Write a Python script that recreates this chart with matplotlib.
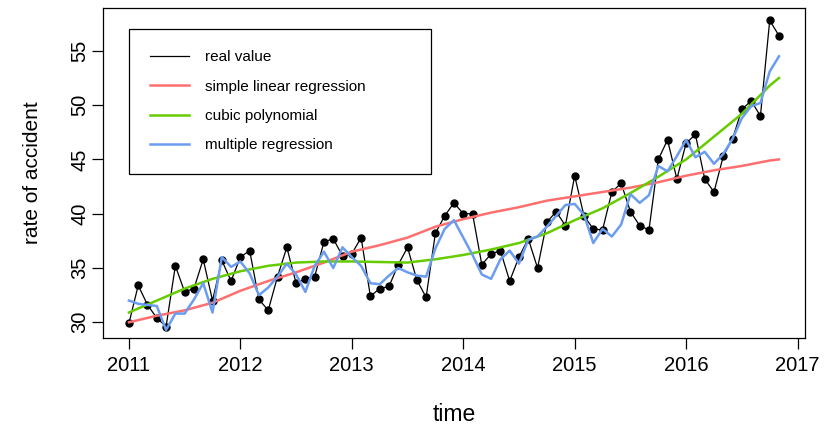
import numpy as np
import matplotlib
matplotlib.use("Agg")
import matplotlib.pyplot as plt

plt.rcParams['font.family'] = ['Liberation Sans', 'DejaVu Sans']

# monthly series, Jan 2011 .. Nov 2016
months = np.arange(71)
real_value = [29.9, 33.4, 31.6, 30.4, 29.6, 35.2, 32.8, 33.1, 35.8, 32.0,
              35.7, 33.8, 36.0, 36.6, 32.1, 31.1, 34.2, 36.9, 33.6, 34.0,
              34.2, 37.4, 37.7, 36.1, 36.3, 37.8, 32.4, 33.1, 33.3, 35.3,
              36.9, 33.9, 32.3, 38.2, 39.8, 41.0, 40.0, 40.0, 35.3, 36.3,
              36.6, 33.8, 36.0, 37.7, 35.0, 39.2, 40.2, 38.9, 43.5, 39.8,
              38.6, 38.5, 42.0, 42.8, 40.2, 38.9, 38.5, 45.0, 46.8, 43.2,
              46.5, 47.3, 43.2, 42.0, 45.3, 46.9, 49.6, 50.4, 49.0, 57.8,
              56.4]
multiple_reg = [32.0, 31.7, 31.6, 31.5, 29.3, 30.8, 30.8, 32.1, 33.6, 30.9,
                36.0, 35.1, 35.6, 34.5, 32.5, 33.2, 34.2, 35.4, 34.4, 32.8,
                35.2, 36.5, 35.0, 36.9, 36.0, 35.2, 33.6, 33.5, 34.3, 35.0,
                34.6, 34.3, 34.2, 36.8, 38.6, 39.4, 37.8, 36.2, 34.4, 34.0,
                35.8, 36.6, 35.4, 37.6, 37.9, 38.8, 39.8, 40.8, 40.9, 39.9,
                37.3, 38.6, 37.9, 39.0, 41.8, 41.0, 41.7, 44.4, 43.9, 45.3,
                46.8, 45.2, 45.7, 44.6, 45.5, 46.9, 48.8, 49.9, 50.2, 53.1,
                54.5]

# fitted curves read at quarter-year steps
fit_time = [2011.0, 2011.25, 2011.5, 2011.75, 2012.0, 2012.25, 2012.5, 2012.75,
            2013.0, 2013.25, 2013.5, 2013.75, 2014.0, 2014.25, 2014.5, 2014.75,
            2015.0, 2015.25, 2015.5, 2015.75, 2016.0, 2016.25, 2016.5, 2016.75,
            2016.833]
simple_linear = [30.0, 30.6, 31.1, 31.8, 32.9, 33.8, 34.6, 35.5,
                 36.5, 37.1, 37.8, 38.8, 39.5, 40.1, 40.6, 41.2,
                 41.6, 42.0, 42.4, 42.9, 43.5, 44.0, 44.4, 44.9, 45.0]
cubic_poly = [30.9, 32.0, 33.1, 34.0, 34.7, 35.2, 35.5, 35.6,
              35.6, 35.55, 35.5, 35.8, 36.2, 36.7, 37.3, 38.2,
              39.4, 40.5, 41.9, 43.4, 45.0, 47.1, 49.2, 51.8, 52.5]

time = 2011 + months / 12

fig = plt.figure(figsize=(8.25, 4.29), dpi=100)
ax = fig.add_axes([0.1248, 0.2121, 0.851, 0.7693])

ax.plot(time, real_value, color='black', lw=0.9, marker='o', ms=5,
        label='real value')
ax.plot(fit_time, simple_linear, color='#ff6f6f', lw=1.8,
        label='simple linear regression')
ax.plot(fit_time, cubic_poly, color='#66cc00', lw=1.8,
        label='cubic polynomial')
ax.plot(time, multiple_reg, color='#6a9cf0', lw=1.8,
        label='multiple regression')

ax.set_xlim(2010.767, 2017.067)
ax.set_ylim(28.55, 58.95)
ax.set_xticks(range(2011, 2018))
ax.set_yticks(range(30, 56, 5))
ax.tick_params(direction='out', length=8, width=0.9, labelsize=14.5)
ax.tick_params(axis='x', pad=5)
ax.tick_params(axis='y', pad=2)
for lab in ax.get_yticklabels():
    lab.set_rotation(90)
    lab.set_va('center')
for sp in ax.spines.values():
    sp.set_linewidth(0.9)

ax.set_xlabel('time', fontsize=16.5, labelpad=20)
ax.set_ylabel('rate of accident', fontsize=15, labelpad=20)

leg = ax.legend(loc='upper left', bbox_to_anchor=(0.037, 0.0, 0.430, 0.9364),
                mode='expand', borderaxespad=0, fontsize=11, handlelength=2.5,
                handletextpad=1.05, labelspacing=1.0, borderpad=1.4,
                fancybox=False, edgecolor='black', framealpha=1)
leg.get_frame().set_linewidth(0.9)
for h in leg.get_lines():
    h.set_marker('')

fig.savefig('out.png', dpi=100)
